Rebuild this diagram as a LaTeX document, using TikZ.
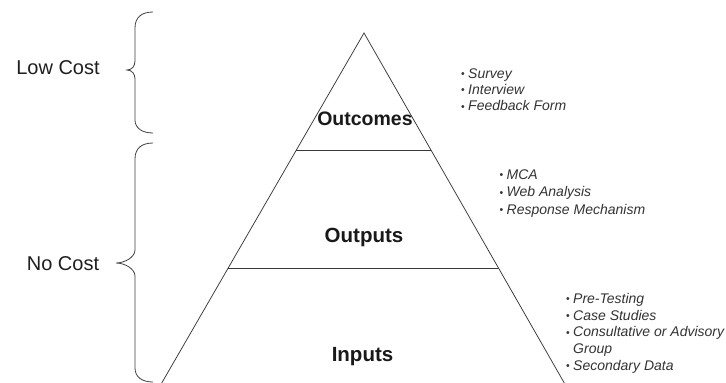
\documentclass[tikz,border=0pt]{standalone}
\usepackage{fontspec}
\setmainfont{Liberation Sans}
\usetikzlibrary{calc}
\newcommand\mybul{\makebox[7pt][l]{\raisebox{0.6pt}{\fontsize{10.5}{10}\selectfont\upshape\textbullet}}}
\begin{document}
\begin{tikzpicture}[x=1pt,y=-1pt,
  edge/.style={draw=black!78,line width=0.75pt},
  bracepath/.style={draw=black!75,line width=0.8pt},
  cost/.style={font=\fontsize{20}{24}\selectfont,text=black!88,inner sep=0pt,anchor=base},
  level/.style={font=\fontsize{20.5}{24}\selectfont\bfseries,text=black!90,inner sep=0pt,anchor=base},
  item/.style={font=\fontsize{14}{17}\selectfont\itshape,text=black!80,inner sep=0pt,anchor=base west}]
\useasboundingbox (0,0) rectangle (726,383);
\fill[white] (0,0) rectangle (726,383);
% triangle
\coordinate (apex) at (364,33);
\coordinate (bl) at (160,386);
\coordinate (br) at (566,386);
\coordinate (d1l) at ($(apex)!0.3314!(bl)$);
\coordinate (d1r) at ($(apex)!0.3314!(br)$);
\coordinate (d2l) at ($(apex)!0.6657!(bl)$);
\coordinate (d2r) at ($(apex)!0.6657!(br)$);
\draw[edge] (apex) -- (bl) -- (br) -- cycle;
\draw[edge] (d1l) -- (d1r);
\draw[edge] (d2l) -- (d2r);
% level labels
\node[level,font=\fontsize{19.5}{24}\selectfont\bfseries] (outcomes) at (365,125.5) {Outcomes};
\node[level] (outputs) at (364,242) {Outputs};
\node[level] (inputs) at (362.5,361) {Inputs};
% braces
\draw[bracepath] (153,12) .. controls (142,12) and (135,17) .. (135,28)
  -- (135,61) .. controls (135,66) and (132,70) .. (127,70)
  .. controls (132,70) and (135,74) .. (135,79)
  -- (135,120) .. controls (135,128) and (142,133) .. (153,133);
\draw[bracepath] (153,143) .. controls (142,143) and (135,148) .. (135,159)
  -- (135,250) .. controls (135,257) and (125,263) .. (116,263)
  .. controls (125,263) and (135,269) .. (135,276)
  -- (135,368) .. controls (135,377) and (142,382) .. (153,382);
\node[cost] (lowcost) at (58,74) {Low Cost};
\node[cost] (nocost) at (63,270.5) {No Cost};
% bullet lists
\node[item] (s1) at (461,78.3) {\mybul Survey};
\node[item] (s2) at (461,94.5) {\mybul Interview};
\node[item] (s3) at (461,110.7) {\mybul Feedback Form};
\node[item] (m1) at (499.5,179.3) {\mybul MCA};
\node[item] (m2) at (499.5,196.7) {\mybul Web Analysis};
\node[item] (m3) at (499.5,214) {\mybul Response Mechanism};
\node[item] (p1) at (566,303.3) {\mybul Pre-Testing};
\node[item] (p2) at (566,320) {\mybul Case Studies};
\node[item] (p3) at (566,336.7) {\mybul Consultative or Advisory};
\node[item] (p4) at (566,353.3) {\hspace{7pt}Group};
\node[item] (p5) at (566,370) {\mybul Secondary Data};
\end{tikzpicture}
\end{document}
